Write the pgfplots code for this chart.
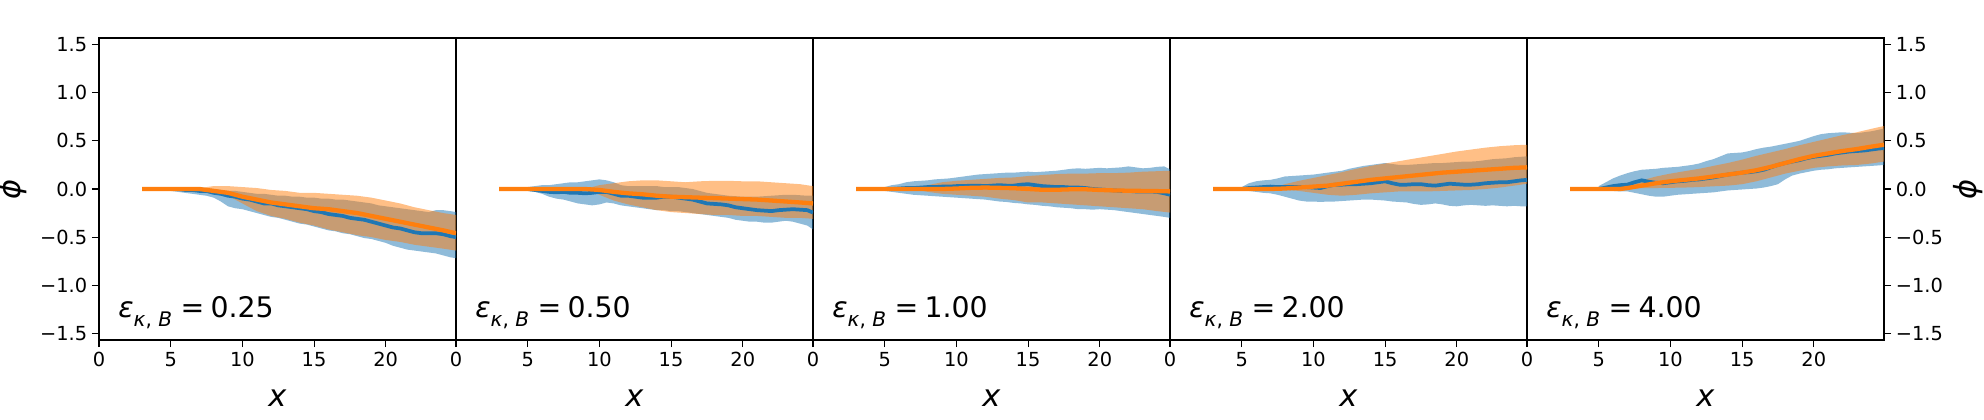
\documentclass[border=0pt]{standalone}
\usepackage{fontspec}
\setmainfont{DejaVu Sans}
\usepackage{pgfplots}
\pgfplotsset{compat=1.18}
\usepackage{pgfplotstable}
\usepgfplotslibrary{groupplots,fillbetween}
\definecolor{cblue}{HTML}{1F77B4}
\definecolor{corange}{HTML}{FF7F0E}

% ---------- panel 1 ----------
\pgfplotstableread{
x m lo hi
5.0 0.00 -0.02 0.02
5.5 0.00 -0.03 0.02
6.0 -0.01 -0.04 0.02
6.5 -0.01 -0.05 0.01
7.0 -0.02 -0.06 0.02
7.5 -0.02 -0.07 0.01
8.0 -0.04 -0.09 0.00
8.5 -0.05 -0.13 -0.01
9.0 -0.07 -0.18 -0.02
9.5 -0.08 -0.20 -0.02
10.0 -0.10 -0.21 -0.03
10.5 -0.11 -0.23 -0.04
11.0 -0.13 -0.25 -0.05
11.5 -0.15 -0.27 -0.05
12.0 -0.15 -0.29 -0.06
12.5 -0.17 -0.30 -0.07
13.0 -0.18 -0.32 -0.07
13.5 -0.19 -0.34 -0.08
14.0 -0.20 -0.36 -0.08
14.5 -0.21 -0.37 -0.09
15.0 -0.23 -0.39 -0.09
15.5 -0.24 -0.41 -0.10
16.0 -0.26 -0.43 -0.10
16.5 -0.27 -0.44 -0.11
17.0 -0.28 -0.46 -0.11
17.5 -0.30 -0.47 -0.12
18.0 -0.31 -0.49 -0.13
18.5 -0.32 -0.51 -0.14
19.0 -0.34 -0.52 -0.15
19.5 -0.36 -0.54 -0.17
20.0 -0.38 -0.56 -0.18
20.5 -0.40 -0.59 -0.19
21.0 -0.41 -0.61 -0.20
21.5 -0.43 -0.63 -0.21
22.0 -0.45 -0.64 -0.22
22.5 -0.46 -0.65 -0.23
23.0 -0.46 -0.66 -0.24
23.5 -0.46 -0.67 -0.22
24.0 -0.47 -0.69 -0.22
24.5 -0.49 -0.71 -0.23
24.9 -0.50 -0.72 -0.24
}\bA
\pgfplotstableread{
x m lo hi
3.0 0 0 0
7.0 0 0 0
7.5 -0.01 -0.02 0.02
8.0 -0.02 -0.04 0.03
9.0 -0.04 -0.07 0.03
10.0 -0.08 -0.15 0.02
11.0 -0.11 -0.23 0.01
12.0 -0.14 -0.28 -0.01
13.0 -0.16 -0.31 -0.02
14.0 -0.18 -0.35 -0.04
15.0 -0.20 -0.38 -0.04
16.0 -0.21 -0.42 -0.05
17.0 -0.23 -0.45 -0.06
18.0 -0.25 -0.48 -0.07
19.0 -0.28 -0.50 -0.09
20.0 -0.31 -0.53 -0.12
21.0 -0.34 -0.55 -0.15
22.0 -0.37 -0.58 -0.19
23.0 -0.40 -0.60 -0.22
24.0 -0.43 -0.62 -0.25
24.9 -0.46 -0.64 -0.27
}\oA

% ---------- panel 2 ----------
\pgfplotstableread{
x m lo hi
5.0 0.00 -0.02 0.02
5.5 -0.01 -0.03 0.03
6.0 -0.02 -0.05 0.04
6.5 -0.03 -0.08 0.04
7.0 -0.035 -0.10 0.05
7.5 -0.03 -0.11 0.06
8.0 -0.04 -0.13 0.07
8.5 -0.04 -0.15 0.07
9.0 -0.045 -0.16 0.08
9.5 -0.04 -0.17 0.09
10.0 -0.03 -0.16 0.10
10.5 -0.03 -0.14 0.09
11.0 -0.05 -0.15 0.07
11.5 -0.07 -0.17 0.04
12.0 -0.07 -0.18 0.03
12.5 -0.08 -0.19 0.03
13.0 -0.09 -0.20 0.03
13.5 -0.09 -0.21 0.03
14.0 -0.09 -0.22 0.03
14.5 -0.08 -0.22 0.02
15.0 -0.08 -0.23 0.02
15.5 -0.09 -0.23 0.02
16.0 -0.10 -0.24 0.01
16.5 -0.11 -0.25 0.00
17.0 -0.13 -0.26 -0.02
17.5 -0.15 -0.27 -0.04
18.0 -0.155 -0.28 -0.05
18.5 -0.16 -0.29 -0.06
19.0 -0.17 -0.30 -0.07
19.5 -0.19 -0.32 -0.075
20.0 -0.20 -0.33 -0.08
20.5 -0.21 -0.34 -0.08
21.0 -0.22 -0.34 -0.08
21.5 -0.225 -0.35 -0.075
22.0 -0.23 -0.35 -0.07
22.5 -0.22 -0.34 -0.065
23.0 -0.215 -0.33 -0.06
23.5 -0.21 -0.34 -0.06
24.0 -0.215 -0.36 -0.065
24.5 -0.22 -0.38 -0.07
24.9 -0.245 -0.42 -0.07
}\bB
\pgfplotstableread{
x m lo hi
3.0 0 0 0
9.0 0 0 0
10.0 -0.01 -0.06 0.04
11.0 -0.03 -0.12 0.06
12.0 -0.045 -0.16 0.08
13.0 -0.055 -0.19 0.09
14.0 -0.07 -0.22 0.09
15.0 -0.08 -0.24 0.08
16.0 -0.085 -0.25 0.07
17.0 -0.09 -0.26 0.08
18.0 -0.095 -0.27 0.085
19.0 -0.10 -0.27 0.085
20.0 -0.105 -0.28 0.08
21.0 -0.11 -0.28 0.08
22.0 -0.12 -0.29 0.07
23.0 -0.13 -0.30 0.06
24.0 -0.14 -0.30 0.05
24.9 -0.15 -0.31 0.03
}\oB

% ---------- panel 3 ----------
\pgfplotstableread{
x m lo hi
5.0 0.00 -0.02 0.02
5.5 0.00 -0.03 0.04
6.0 0.005 -0.04 0.05
6.5 0.01 -0.05 0.07
7.0 0.01 -0.06 0.08
7.5 0.015 -0.065 0.085
8.0 0.02 -0.07 0.09
8.5 0.02 -0.075 0.10
9.0 0.025 -0.08 0.105
9.5 0.025 -0.085 0.11
10.0 0.03 -0.09 0.12
10.5 0.03 -0.095 0.13
11.0 0.035 -0.10 0.14
11.5 0.035 -0.105 0.15
12.0 0.03 -0.11 0.155
12.5 0.035 -0.12 0.16
13.0 0.04 -0.13 0.165
13.5 0.035 -0.135 0.17
14.0 0.035 -0.145 0.17
14.5 0.045 -0.15 0.175
15.0 0.05 -0.16 0.18
15.5 0.04 -0.165 0.175
16.0 0.03 -0.175 0.18
16.5 0.025 -0.18 0.185
17.0 0.02 -0.19 0.19
17.5 0.02 -0.195 0.20
18.0 0.015 -0.20 0.21
18.5 0.015 -0.21 0.215
19.0 0.01 -0.21 0.21
19.5 0.0 -0.215 0.215
20.0 -0.005 -0.21 0.22
20.5 -0.01 -0.215 0.215
21.0 -0.015 -0.22 0.22
21.5 -0.02 -0.23 0.225
22.0 -0.02 -0.24 0.235
22.5 -0.025 -0.25 0.225
23.0 -0.025 -0.26 0.215
23.5 -0.025 -0.27 0.22
24.0 -0.03 -0.28 0.23
24.5 -0.045 -0.29 0.235
24.9 -0.06 -0.30 0.205
}\bC
\pgfplotstableread{
x m lo hi
3.0 0 0 0
7.0 0 0 0
8.0 0 -0.03 0.04
9.0 0 -0.05 0.07
10.0 0.005 -0.06 0.085
11.0 0.012 -0.07 0.095
12.0 0.015 -0.08 0.105
13.0 0.012 -0.10 0.115
14.0 0.008 -0.115 0.12
15.0 0.0 -0.14 0.135
16.0 -0.008 -0.14 0.145
17.0 -0.008 -0.15 0.155
18.0 -0.003 -0.16 0.16
19.0 -0.003 -0.17 0.16
20.0 -0.01 -0.18 0.165
21.0 -0.015 -0.19 0.165
22.0 -0.018 -0.20 0.17
23.0 -0.02 -0.21 0.18
24.0 -0.022 -0.23 0.185
24.9 -0.025 -0.245 0.19
}\oC

% ---------- panel 4 ----------
\pgfplotstableread{
x m lo hi
5.0 0.00 -0.01 0.02
5.5 0.01 -0.02 0.06
6.0 0.015 -0.03 0.08
6.5 0.02 -0.04 0.09
7.0 0.025 -0.045 0.095
7.5 0.02 -0.06 0.11
8.0 0.02 -0.08 0.13
8.5 0.02 -0.10 0.135
9.0 0.02 -0.12 0.14
9.5 0.02 -0.13 0.145
10.0 0.015 -0.13 0.15
10.5 0.01 -0.135 0.16
11.0 0.03 -0.13 0.17
11.5 0.045 -0.13 0.18
12.0 0.045 -0.125 0.19
12.5 0.05 -0.12 0.21
13.0 0.05 -0.115 0.225
13.5 0.055 -0.11 0.24
14.0 0.06 -0.11 0.25
14.5 0.07 -0.115 0.26
15.0 0.08 -0.12 0.27
15.5 0.06 -0.13 0.26
16.0 0.045 -0.135 0.25
16.5 0.045 -0.14 0.25
17.0 0.05 -0.155 0.255
17.5 0.05 -0.165 0.26
18.0 0.04 -0.16 0.265
18.5 0.035 -0.15 0.27
19.0 0.045 -0.16 0.27
19.5 0.055 -0.175 0.275
20.0 0.05 -0.18 0.28
20.5 0.045 -0.17 0.285
21.0 0.045 -0.165 0.285
21.5 0.05 -0.17 0.29
22.0 0.06 -0.175 0.30
22.5 0.065 -0.17 0.31
23.0 0.07 -0.175 0.315
23.5 0.07 -0.18 0.32
24.0 0.08 -0.175 0.33
24.5 0.09 -0.18 0.335
24.9 0.095 -0.18 0.34
}\bD
\pgfplotstableread{
x m lo hi
3.0 0 0 0
7.0 0 0 0
8.0 0.005 -0.01 0.05
9.0 0.015 -0.02 0.085
10.0 0.025 -0.04 0.115
11.0 0.035 -0.06 0.145
12.0 0.055 -0.07 0.175
13.0 0.075 -0.06 0.21
14.0 0.095 -0.045 0.24
15.0 0.11 -0.035 0.265
16.0 0.125 -0.025 0.29
17.0 0.14 -0.025 0.315
18.0 0.155 -0.025 0.34
19.0 0.17 -0.02 0.365
20.0 0.18 -0.015 0.39
21.0 0.19 -0.01 0.41
22.0 0.20 0.0 0.43
23.0 0.21 0.015 0.445
24.0 0.22 0.035 0.455
24.9 0.225 0.055 0.46
}\oD

% ---------- panel 5 ----------
\pgfplotstableread{
x m lo hi
5.0 0.00 -0.01 0.03
5.5 0.015 -0.015 0.07
6.0 0.03 -0.02 0.11
6.5 0.04 -0.025 0.14
7.0 0.045 -0.025 0.165
7.5 0.07 -0.04 0.185
8.0 0.09 -0.055 0.20
8.5 0.075 -0.07 0.205
9.0 0.065 -0.08 0.21
9.5 0.06 -0.08 0.22
10.0 0.07 -0.07 0.225
10.5 0.08 -0.06 0.23
11.0 0.085 -0.055 0.24
11.5 0.095 -0.05 0.25
12.0 0.10 -0.045 0.265
12.5 0.11 -0.04 0.29
13.0 0.12 -0.035 0.31
13.5 0.135 -0.025 0.34
14.0 0.15 -0.015 0.37
14.5 0.16 -0.01 0.375
15.0 0.17 -0.005 0.38
15.5 0.175 0.0 0.395
16.0 0.185 0.005 0.415
16.5 0.20 0.015 0.43
17.0 0.225 0.03 0.44
17.5 0.25 0.05 0.455
18.0 0.27 0.10 0.47
18.5 0.285 0.14 0.485
19.0 0.30 0.16 0.50
19.5 0.32 0.175 0.525
20.0 0.335 0.19 0.55
20.5 0.345 0.20 0.57
21.0 0.355 0.205 0.58
21.5 0.37 0.215 0.585
22.0 0.38 0.22 0.59
22.5 0.39 0.225 0.585
23.0 0.395 0.23 0.58
23.5 0.40 0.235 0.59
24.0 0.41 0.24 0.60
24.5 0.42 0.245 0.615
24.9 0.425 0.25 0.63
}\bE
\pgfplotstableread{
x m lo hi
3.0 0 0 0
6.5 0 0 0
7.0 0.01 0.0 0.03
8.0 0.035 0.01 0.09
9.0 0.06 0.01 0.13
10.0 0.08 0.012 0.16
11.0 0.095 0.015 0.185
12.0 0.11 0.02 0.21
13.0 0.13 0.028 0.24
14.0 0.15 0.035 0.27
15.0 0.17 0.05 0.305
16.0 0.195 0.08 0.345
17.0 0.23 0.12 0.38
18.0 0.27 0.16 0.415
19.0 0.31 0.19 0.455
20.0 0.345 0.22 0.49
21.0 0.37 0.235 0.525
22.0 0.395 0.245 0.56
23.0 0.415 0.25 0.59
24.0 0.44 0.265 0.625
24.9 0.46 0.285 0.655
}\oE

\newcommand{\drawpanel}[4]{%
  \addplot[draw=none, forget plot, name path=bh#3] table[x=x,y=hi]{#1};
  \addplot[draw=none, forget plot, name path=bl#3] table[x=x,y=lo]{#1};
  \addplot[fill=cblue, fill opacity=0.5, draw=none, forget plot] fill between[of=bh#3 and bl#3];
  \addplot[draw=none, forget plot, name path=oh#3] table[x=x,y=hi]{#2};
  \addplot[draw=none, forget plot, name path=ol#3] table[x=x,y=lo]{#2};
  \addplot[fill=corange, fill opacity=0.5, draw=none, forget plot] fill between[of=oh#3 and ol#3];
  \addplot[cblue, line width=2.7pt, forget plot] table[x=x,y=m]{#1};
  \addplot[corange, line width=3.1pt, forget plot] table[x=x,y=m]{#2};
  \node[anchor=base west, font=\fontsize{20.5}{24}\selectfont, inner sep=0pt] at (axis cs:1.33,-1.34)
    {\textit{ε}\raisebox{-0.3em}{\fontsize{14.5}{16}\selectfont\textit{κ}, \textit{B}}\hspace{0.3em}=\hspace{0.22em}#4};
}

\begin{document}
\begin{tikzpicture}
\begin{groupplot}[
  group style={group size=5 by 1, horizontal sep=0pt},
  width=3.57in, height=3.02in, scale only axis,
  xmin=0, xmax=24.9, ymin=-1.57, ymax=1.57,
  axis line style={line width=0.8pt, black},
  tick style={line width=0.8pt, black},
  tick align=outside,
  major tick length=0.07in,
  xtick={0,5,10,15,20}, xticklabels={0,5,10,15,20},
  xtick pos=left,
  tick label style={font=\fontsize{14}{16}\selectfont},
  xlabel={\textit{x}},
  xlabel style={at={(axis description cs:0.5,-0.192)}, anchor=center, font=\fontsize{22}{26}\selectfont},
  ylabel style={font=\fontsize{22}{26}\selectfont},
]
\nextgroupplot[ytick={-1.5,-1,-0.5,0,0.5,1,1.5},
  yticklabels={−1.5,−1.0,−0.5,0.0,0.5,1.0,1.5},
  ytick pos=left,
  ylabel={\textit{ϕ}},
  ylabel style={at={(axis description cs:-0.243,0.5)}, anchor=center}]
\drawpanel{\bA}{\oA}{a}{0.25}
\nextgroupplot[ytick=\empty]
\drawpanel{\bB}{\oB}{b}{0.50}
\nextgroupplot[ytick=\empty]
\drawpanel{\bC}{\oC}{c}{1.00}
\nextgroupplot[ytick=\empty]
\drawpanel{\bD}{\oD}{d}{2.00}
\nextgroupplot[ytick={-1.5,-1,-0.5,0,0.5,1,1.5},
  yticklabels={−1.5,−1.0,−0.5,0.0,0.5,1.0,1.5},
  ytick pos=right, yticklabel pos=right,
  ylabel={\textit{ϕ}},
  ylabel style={at={(axis description cs:1.235,0.5)}, anchor=center}]
\drawpanel{\bE}{\oE}{e}{4.00}
\end{groupplot}
\pgfresetboundingbox
\path[use as bounding box] ([shift={(-0.99in,-0.80in)}]group c1r1.south west) rectangle ([shift={(1.00in,0.38in)}]group c5r1.north east);
\end{tikzpicture}
\end{document}
